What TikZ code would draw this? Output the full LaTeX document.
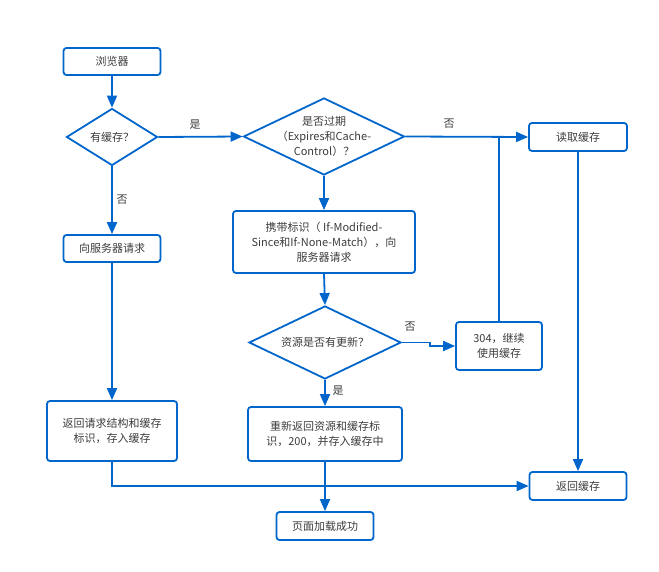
\documentclass[tikz,border=0pt]{standalone}
\usepackage{fontspec}
\setmainfont{Noto Sans CJK SC}
\usetikzlibrary{arrows.meta,shapes.geometric}
\definecolor{flowblue}{RGB}{0,102,204}
\definecolor{flowtext}{RGB}{60,60,60}

\begin{document}
\begin{tikzpicture}
[
	x		= 1pt,	% one unit is one pixel of the sketch
	y		= -1pt,	% and y runs downwards
	%
	%
	% ----------- options for the chart --------------
	every node/.style =
	{
		text		= flowtext,
		font		= \fontsize{11}{15}\selectfont,
		align		= center,
		inner sep	= 0pt
	},
	%
	process/.style =
	{
		draw		= flowblue,
		line width	= 1.8pt,
		rounded corners	= 3pt,
		rectangle
	},
	%
	decision/.style =
	{
		draw		= flowblue,
		line width	= 1.8pt,
		diamond
	},
	%
	flow/.style =
	{
		draw		= flowblue,
		line width	= 1.8pt,
		-{Triangle[length=12pt, width=10pt]}
	},
	%
	joinline/.style =
	{
		flow,
		-
	}
]

\useasboundingbox (0,0) rectangle (659,572);



% left column
\node [process, minimum width=97pt, minimum height=27pt] (browser) at (112,61.5) {浏览器};
\node [decision, minimum width=91pt, minimum height=57pt] (hascache) at (112,137) {};
\node (hascachetext) at (hascache.center) {有缓存？};
\node [process, minimum width=97pt, minimum height=27pt] (request) at (112,248.5) {向服务器请求};
\node [process, minimum width=130pt, minimum height=60pt] (returnresp) at (112,431) {返回请求结构和缓存\\标识，存入缓存};

% middle column
\node [decision, minimum width=161pt, minimum height=77pt] (expired) at (324,136.5) {};
\node (expiredtext) at (expired.center) {是否过期\\（Expires和Cache-\\Control）？};
\node [process, minimum width=182pt, minimum height=62pt] (conditional) at (324,242) {携带标识（ If-Modified-\\Since和If-None-Match），向\\服务器请求};
\node [decision, minimum width=152pt, minimum height=73pt] (modified) at (325,342.5) {};
\node (modifiedtext) at (modified.center) {资源是否有更新？};
\node [process, minimum width=154pt, minimum height=54pt] (newresource) at (325,434) {重新返回资源和缓存标\\识，200，并存入缓存中};
\node [process, minimum width=97pt, minimum height=28pt] (loaded) at (325,526) {页面加载成功};

% right column
\node [process, minimum width=98pt, minimum height=28pt] (readcache) at (578,137) {读取缓存};
\node [process, minimum width=86pt, minimum height=48pt] (notmodified) at (499,346) {304，继续\\使用缓存};
\node [process, minimum width=97pt, minimum height=28pt] (returncache) at (578,486) {返回缓存};

% answers
\node (yescache) at (195,125) {是};
\node (nocache) at (122,200) {否};
\node (notexpired) at (449,124) {否};
\node (nochange) at (410,327) {否};
\node (changed) at (338,391) {是};

\coordinate (jog) at (430,342.5);



% connectors
\draw [flow] (browser) -- (hascache);
\draw [flow] (hascache.east) -- (expired.west);
\draw [flow] (hascache.south) -- (request.north);
\draw [flow] (request.south) -- (returnresp.north);
\draw [flow] (expired.east) -- (readcache.west);
\draw [flow] (expired.south) -- (conditional.north);
\draw [flow] (conditional.south) -- (modified.north);
\draw [flow] (modified.east) -- (jog) |- (notmodified.west);
\draw [joinline] (notmodified.north) -- (notmodified.north |- readcache.west);
\draw [flow] (modified.south) -- (newresource.north);
\draw [flow] (readcache.south) -- (returncache.north);
\draw [flow] (returnresp.south) |- (returncache.west);
\draw [flow] (newresource.south) -- (loaded.north);





\end{tikzpicture}
\end{document}
